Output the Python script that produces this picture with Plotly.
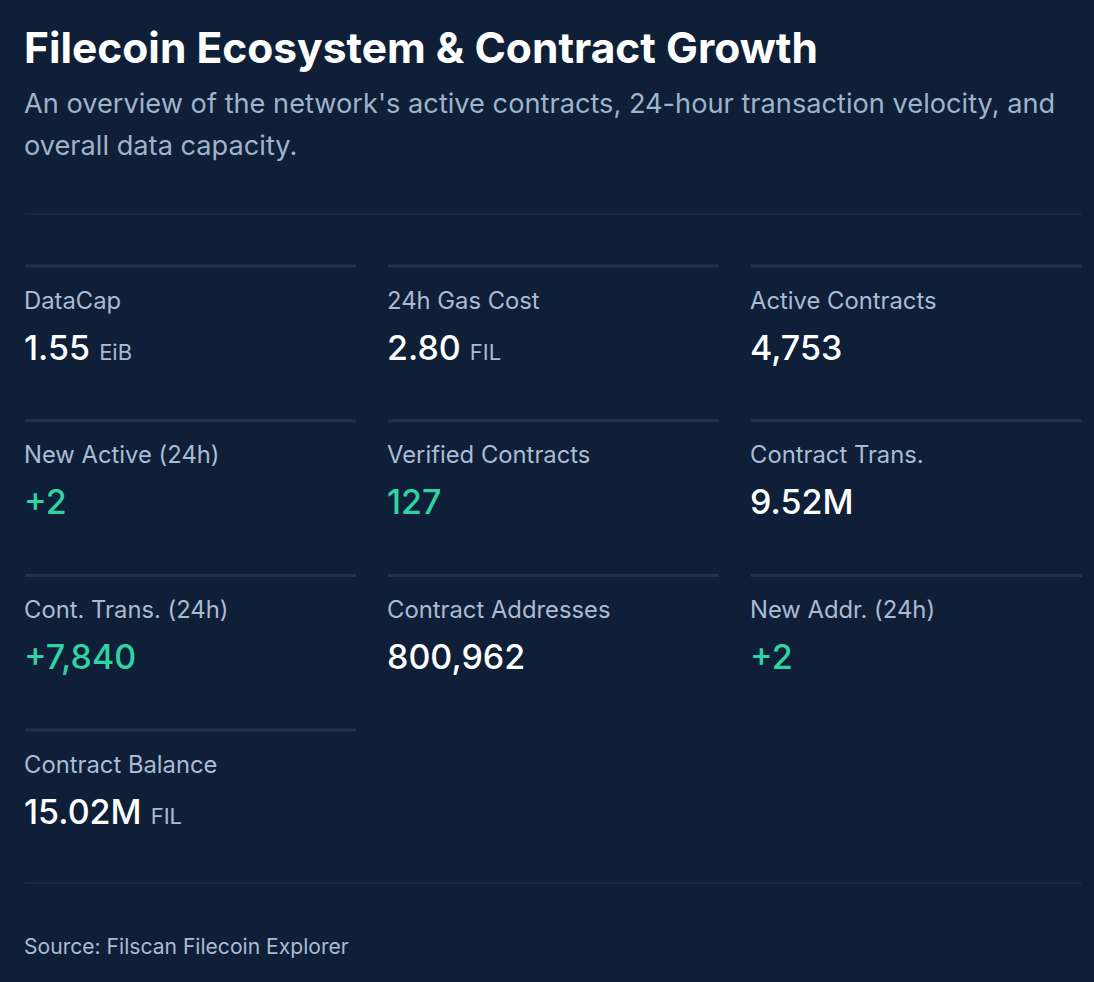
import plotly.graph_objects as go

# KPI data
labels = [
    "DataCap", "24h Gas Cost", "Active Contracts",
    "New Active (24h)", "Verified Contracts", "Contract Trans.",
    "Cont. Trans. (24h)", "Contract Addresses", "New Addr. (24h)",
    "Contract Balance",
]
values = ["1.55", "2.80", "4,753", "+2", "127", "9.52M", "+7,840", "800,962", "+2", "15.02M"]
units = ["EiB", "FIL", "", "", "", "", "", "", "", "FIL"]
highlight = [False, False, False, True, True, False, True, False, True, False]

title = "Filecoin Ecosystem & Contract Growth"
subtitle_lines = [
    "An overview of the network's active contracts, 24-hour transaction velocity, and",
    "overall data capacity.",
]
source = "Source: Filscan Filecoin Explorer"

W, H = 1094, 982
BG = "#0e1f37"
FONT = "Inter"
LABEL_C = "#a9bcd4"
GREEN = "#2fd4a2"
CARD_LINE = "#233448"
DIVIDER = "#1c2d43"

col_x = [25, 388, 751]
card_w = 331
row_y0 = 266
row_h = 154.7

fig = go.Figure()
shapes = []
annotations = []


def add_text(x, y, text, **font):
    # annotations pad the text a little, pull it back to the left edge
    annotations.append(dict(x=x, y=y, text=text, showarrow=False, xanchor="left", yanchor="middle",
                            xshift=-3, align="left", font=dict(family=FONT, **font)))


# header
add_text(25, 47, title, size=42.5, color="#ffffff", weight=700)
for k, line in enumerate(subtitle_lines):
    add_text(25, 103 + k * 42, line, size=27.2, color="#9fb3cc")
shapes.append(dict(type="line", x0=25, x1=1082, y0=214, y1=214, line=dict(color=DIVIDER, width=1.5)))

for i, lab in enumerate(labels):
    c = i % 3
    r = i // 3
    x = col_x[c]
    y = row_y0 + r * row_h
    shapes.append(dict(type="line", x0=x, x1=x + card_w, y0=y, y1=y, line=dict(color=CARD_LINE, width=3)))
    add_text(x, y + 34, lab, size=23.8, color=LABEL_C)
    txt = values[i]
    if units[i]:
        txt += f" <span style='font-size:22px;color:{LABEL_C};font-weight:400'>{units[i]}</span>"
    add_text(x, y + 81, txt, size=34, color=GREEN if highlight[i] else "#ffffff", weight=500)

shapes.append(dict(type="line", x0=25, x1=1082, y0=883, y1=883, line=dict(color=DIVIDER, width=1.5)))
add_text(25, 946, source, size=21.1, color=LABEL_C)

fig.update_layout(
    width=W, height=H,
    paper_bgcolor=BG, plot_bgcolor=BG,
    margin=dict(l=0, r=0, t=0, b=0),
    xaxis=dict(range=[0, W], visible=False, fixedrange=True),
    yaxis=dict(range=[H, 0], visible=False, fixedrange=True),
    shapes=shapes,
    annotations=annotations,
    showlegend=False,
)

fig.write_html(
    "out.html",
    config={"displayModeBar": False},
    post_script=f"document.body.style.margin='0';document.body.style.background='{BG}';",
)
